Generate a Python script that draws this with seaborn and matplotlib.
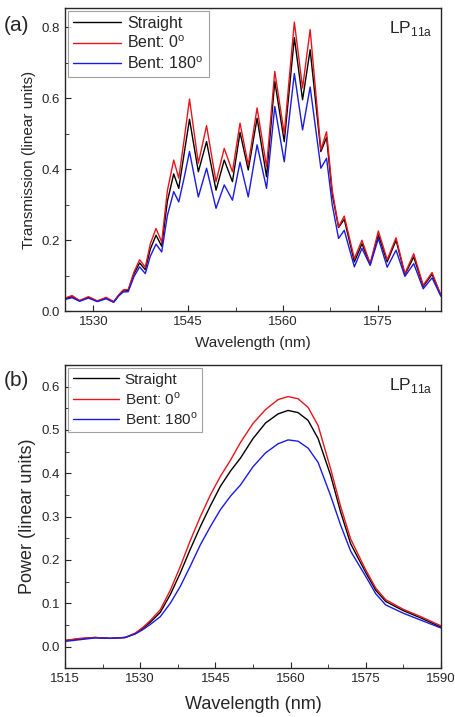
import numpy as np
import pandas as pd
import matplotlib
matplotlib.use("Agg")
import matplotlib.pyplot as plt
from matplotlib.ticker import MultipleLocator
import seaborn as sns

sns.set_style("ticks")
plt.rcParams['font.family'] = ['Liberation Sans', 'DejaVu Sans']
plt.rcParams['mathtext.fontset'] = 'custom'
plt.rcParams['mathtext.rm'] = 'Liberation Sans'

# --- panel (a): transmission spectra ---
wl_a = [1525.5, 1526.6, 1527.8, 1529.2, 1530.6, 1532.0, 1533.2, 1534.0, 1534.7, 1535.5,
        1536.4, 1537.3, 1538.2, 1539.0, 1539.9, 1540.8, 1541.7, 1542.7, 1543.5, 1544.4,
        1545.2, 1546.6, 1547.9, 1549.4, 1550.7, 1552.0, 1553.2, 1554.5, 1555.9, 1557.4,
        1558.7, 1560.2, 1561.8, 1563.1, 1564.3, 1566.0, 1566.9, 1567.8, 1568.8, 1569.7,
        1571.3, 1572.5, 1573.8, 1575.1, 1576.5, 1577.9, 1579.3, 1580.7, 1582.2, 1583.6,
        1585.0]
straight_a = [0.035, 0.041, 0.029, 0.039, 0.028, 0.037, 0.026, 0.045, 0.057, 0.058,
              0.105, 0.136, 0.117, 0.175, 0.214, 0.183, 0.310, 0.387, 0.346, 0.450,
              0.541, 0.393, 0.478, 0.341, 0.426, 0.365, 0.504, 0.398, 0.544, 0.379,
              0.648, 0.478, 0.771, 0.596, 0.737, 0.450, 0.490, 0.330, 0.236, 0.259,
              0.139, 0.190, 0.132, 0.215, 0.139, 0.200, 0.103, 0.153, 0.070, 0.104,
              0.044]
bent0_a = [0.037, 0.044, 0.030, 0.041, 0.029, 0.039, 0.027, 0.046, 0.060, 0.061,
           0.110, 0.145, 0.124, 0.190, 0.233, 0.195, 0.340, 0.426, 0.375, 0.490,
           0.598, 0.417, 0.523, 0.365, 0.459, 0.393, 0.530, 0.412, 0.573, 0.407,
           0.676, 0.500, 0.815, 0.629, 0.794, 0.455, 0.506, 0.340, 0.238, 0.268,
           0.148, 0.200, 0.134, 0.226, 0.145, 0.207, 0.106, 0.162, 0.073, 0.109,
           0.045]
bent180_a = [0.033, 0.038, 0.028, 0.037, 0.027, 0.035, 0.025, 0.043, 0.054, 0.055,
             0.097, 0.125, 0.106, 0.155, 0.189, 0.167, 0.270, 0.337, 0.308, 0.380,
             0.450, 0.322, 0.403, 0.290, 0.356, 0.313, 0.420, 0.322, 0.469, 0.346,
             0.577, 0.421, 0.670, 0.511, 0.632, 0.403, 0.431, 0.300, 0.205, 0.228,
             0.125, 0.177, 0.129, 0.205, 0.124, 0.172, 0.098, 0.134, 0.063, 0.094,
             0.042]

# --- panel (b): power ---
wl_b = [1515, 1518, 1521, 1524, 1527, 1529, 1530.5, 1532, 1534, 1536, 1538, 1540, 1542,
        1544, 1546, 1548, 1550, 1552.5, 1555, 1557.5, 1559.5, 1561.5, 1563.5, 1565.5,
        1568, 1570, 1572, 1575, 1577, 1579, 1582.5, 1586, 1590]
straight_b = [0.014, 0.018, 0.021, 0.019, 0.021, 0.030, 0.042, 0.056, 0.079, 0.120, 0.170,
              0.225, 0.277, 0.325, 0.370, 0.405, 0.435, 0.480, 0.516, 0.537, 0.545, 0.540,
              0.522, 0.480, 0.395, 0.310, 0.237, 0.171, 0.130, 0.104, 0.083, 0.066, 0.045]
bent0_b = [0.014, 0.019, 0.021, 0.019, 0.021, 0.031, 0.044, 0.060, 0.085, 0.130, 0.185,
           0.245, 0.300, 0.350, 0.393, 0.430, 0.471, 0.515, 0.547, 0.570, 0.577, 0.572,
           0.552, 0.510, 0.410, 0.323, 0.248, 0.177, 0.135, 0.108, 0.086, 0.069, 0.048]
bent180_b = [0.012, 0.016, 0.020, 0.019, 0.021, 0.029, 0.039, 0.051, 0.069, 0.100, 0.139,
             0.186, 0.235, 0.277, 0.316, 0.347, 0.373, 0.415, 0.447, 0.468, 0.477, 0.474,
             0.458, 0.425, 0.348, 0.280, 0.220, 0.162, 0.122, 0.096, 0.077, 0.061, 0.043]

labels = ['Straight', 'Bent: 0$^\\mathregular{o}$', 'Bent: 180$^\\mathregular{o}$']
colors = dict(zip(labels, ['black', '#e8141c', '#1a1ae6']))


def long_form(wl, series):
    frames = [pd.DataFrame({'wl': wl, 'val': s, 'case': lab}) for lab, s in zip(labels, series)]
    return pd.concat(frames, ignore_index=True)


df_a = long_form(wl_a, [straight_a, bent0_a, bent180_a])
df_b = long_form(wl_b, [straight_b, bent0_b, bent180_b])

fig = plt.figure(figsize=(4.55, 7.17), dpi=100)
ax1 = fig.add_axes([0.143, 0.566, 0.826, 0.423])
ax2 = fig.add_axes([0.143, 0.068, 0.826, 0.423])

for ax, df, fs in [(ax1, df_a, 11.5), (ax2, df_b, 11)]:
    sns.lineplot(data=df, x='wl', y='val', hue='case', palette=colors,
                 linewidth=1.0, errorbar=None, ax=ax, solid_joinstyle='round')
    leg = ax.legend(loc='upper left', fontsize=fs, frameon=True, fancybox=False,
                    handlelength=3.0, borderaxespad=0.2, labelspacing=0.25,
                    handletextpad=0.4, borderpad=0.3)
    leg.get_frame().set_edgecolor('#888888')
    leg.get_frame().set_linewidth(0.8)
    ax.xaxis.set_major_locator(MultipleLocator(15))
    ax.xaxis.set_minor_locator(MultipleLocator(7.5))
    ax.tick_params(which='both', direction='in', top=False, right=False, labelsize=9.5)
    ax.tick_params(which='major', length=4.5)
    ax.tick_params(which='minor', length=3)
    for sp in ax.spines.values():
        sp.set_linewidth(1.0)
    ax.text(0.979, 0.918, 'LP$_\\mathregular{11a}$', transform=ax.transAxes,
            ha='right', va='baseline', fontsize=12.5)

ax1.set_xlim(1525.5, 1585)
ax1.set_ylim(0, 0.855)
ax1.yaxis.set_major_locator(MultipleLocator(0.2))
ax1.yaxis.set_minor_locator(MultipleLocator(0.1))
ax1.set_xlabel('Wavelength (nm)', fontsize=11, labelpad=6)
ax1.set_ylabel('Transmission (linear units)', fontsize=11)

ax2.set_xlim(1515, 1590)
ax2.set_ylim(-0.05, 0.65)
ax2.yaxis.set_major_locator(MultipleLocator(0.1))
ax2.yaxis.set_minor_locator(MultipleLocator(0.05))
ax2.set_xlabel('Wavelength (nm)', fontsize=13, labelpad=8)
ax2.set_ylabel('Power (linear units)', fontsize=13)

fig.text(0.008, 0.957, '(a)', fontsize=15)
fig.text(0.008, 0.462, '(b)', fontsize=15)

fig.savefig('out.png', dpi=100)
